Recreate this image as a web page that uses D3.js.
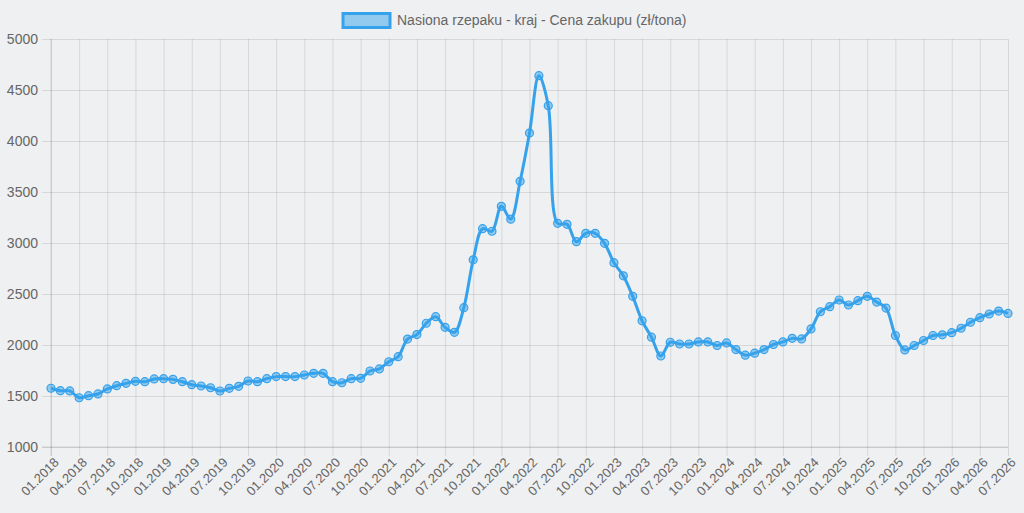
<!DOCTYPE html>
<html>
<head>
<meta charset="utf-8">
<script src="https://cdn.jsdelivr.net/npm/d3@7"></script>
<style>
	html, body {
		margin: 0;
		padding: 0;
		background: #eff0f2;
	}

	svg text {
		font-family: "Liberation Sans", Arial, Helvetica, sans-serif;
		fill: #666666;
	}
</style>
</head>
<body>
<svg id="chart" width="1024" height="513"></svg>
<script>
	// Series label and monthly purchase prices (zł/tona), 01.2018 - 07.2026
	const seriesName = "Nasiona rzepaku - kraj - Cena zakupu (zł/tona)";

	const prices2018 = [1576, 1552, 1550, 1483, 1503, 1520, 1569, 1601, 1624, 1644, 1640, 1667];
	const prices2019 = [1670, 1663, 1640, 1611, 1598, 1581, 1549, 1575, 1595, 1647, 1640, 1670];
	const prices2020 = [1690, 1690, 1690, 1706, 1722, 1722, 1640, 1630, 1670, 1673, 1745, 1765];
	const prices2021 = [1836, 1886, 2058, 2102, 2213, 2278, 2173, 2124, 2366, 2835, 3140, 3115];
	const prices2022 = [3360, 3234, 3605, 4078, 4640, 4346, 3193, 3183, 3013, 3095, 3095, 2997];
	const prices2023 = [2807, 2678, 2477, 2237, 2077, 1892, 2027, 2010, 2010, 2030, 2030, 1995];
	const prices2024 = [2020, 1955, 1900, 1920, 1955, 2005, 2030, 2065, 2060, 2158, 2326, 2376];
	const prices2025 = [2441, 2392, 2435, 2477, 2421, 2362, 2093, 1952, 1995, 2044, 2093, 2100];
	const prices2026 = [2121, 2164, 2223, 2268, 2304, 2333, 2310];

	const prices = [].concat(prices2018, prices2019, prices2020, prices2021, prices2022,
		prices2023, prices2024, prices2025, prices2026);

	// Category labels: one per month, "MM.YYYY"
	const months = d3.timeMonths(new Date(2018, 0, 1), new Date(2026, 7, 1))
		.map(d3.timeFormat("%m.%Y"));

	const yTicks = [1000, 1500, 2000, 2500, 3000, 3500, 4000, 4500, 5000];
	const labelEvery = 3;

	const data = months.map((month, i) => ({month, value: prices[i]}));

	const theme = {
		left: 51,
		right: 1008,
		top: 39,
		bottom: 447,
		lineColor: "#36a2eb",
		pointFill: "rgba(54, 162, 235, 0.5)",
		gridColor: "rgba(0, 0, 0, 0.1)",
	};

	const svg = d3.select("#chart");

	const x = d3.scalePoint()
		.domain(months)
		.range([theme.left, theme.right]);

	const y = d3.scaleLinear()
		.domain([1000, 5000])
		.range([theme.bottom, theme.top]);

	// Horizontal grid + y axis labels
	const yAxis = svg.append("g")
		.attr("transform", `translate(${theme.left},0)`)
		.call(d3.axisLeft(y).tickValues(yTicks).tickSize(9).tickPadding(4)
			.tickFormat(d3.format("d")));
	yAxis.select(".domain").remove();
	yAxis.selectAll(".tick line").attr("stroke", theme.gridColor);
	yAxis.selectAll(".tick")
		.append("line")
		.attr("x2", theme.right - theme.left)
		.attr("stroke", theme.gridColor);
	yAxis.selectAll("text")
		.attr("font-size", 14)
		.attr("fill", "#666666");

	// Vertical grid + rotated x axis labels
	const xAxis = svg.append("g")
		.attr("transform", `translate(0,${theme.bottom})`)
		.call(d3.axisBottom(x)
			.tickValues(months.filter((m, i) => i % labelEvery === 0))
			.tickSize(9));
	xAxis.select(".domain").remove();
	xAxis.selectAll(".tick line").attr("stroke", theme.gridColor);
	xAxis.selectAll(".tick")
		.append("line")
		.attr("y2", theme.top - theme.bottom)
		.attr("stroke", theme.gridColor);
	xAxis.selectAll("text")
		.attr("font-size", 13)
		.attr("fill", "#666666")
		.attr("text-anchor", "end")
		.attr("x", 0)
		.attr("y", 0)
		.attr("dy", "0.35em")
		.attr("transform", "translate(5,13) rotate(-45)");

	// Slightly darker zero lines like the original axes
	svg.append("line")
		.attr("x1", theme.left).attr("x2", theme.left)
		.attr("y1", theme.top).attr("y2", theme.bottom + 9)
		.attr("stroke", "rgba(0,0,0,0.12)");
	svg.append("line")
		.attr("x1", theme.left - 9).attr("x2", theme.right)
		.attr("y1", theme.bottom).attr("y2", theme.bottom)
		.attr("stroke", "rgba(0,0,0,0.12)");

	// The price line
	const line = d3.line()
		.x((d) => x(d.month))
		.y((d) => y(d.value))
		.curve(d3.curveCatmullRom.alpha(0.5));

	svg.append("path")
		.datum(data)
		.attr("fill", "none")
		.attr("stroke", theme.lineColor)
		.attr("stroke-width", 3)
		.attr("stroke-linejoin", "round")
		.attr("d", line);

	svg.append("g")
		.selectAll("circle")
		.data(data)
		.join("circle")
		.attr("cx", (d) => x(d.month))
		.attr("cy", (d) => y(d.value))
		.attr("r", 4)
		.attr("fill", theme.pointFill)
		.attr("stroke", theme.lineColor)
		.attr("stroke-width", 1.2);

	// Legend
	const legend = svg.append("g");
	legend.append("rect")
		.attr("x", 343)
		.attr("y", 13.5)
		.attr("width", 47)
		.attr("height", 14)
		.attr("fill", "rgba(54, 162, 235, 0.5)")
		.attr("stroke", theme.lineColor)
		.attr("stroke-width", 3);
	legend.append("text")
		.attr("x", 397)
		.attr("y", 20.5)
		.attr("dy", "0.35em")
		.attr("font-size", 14)
		.text(seriesName);
</script>
</body>
</html>
